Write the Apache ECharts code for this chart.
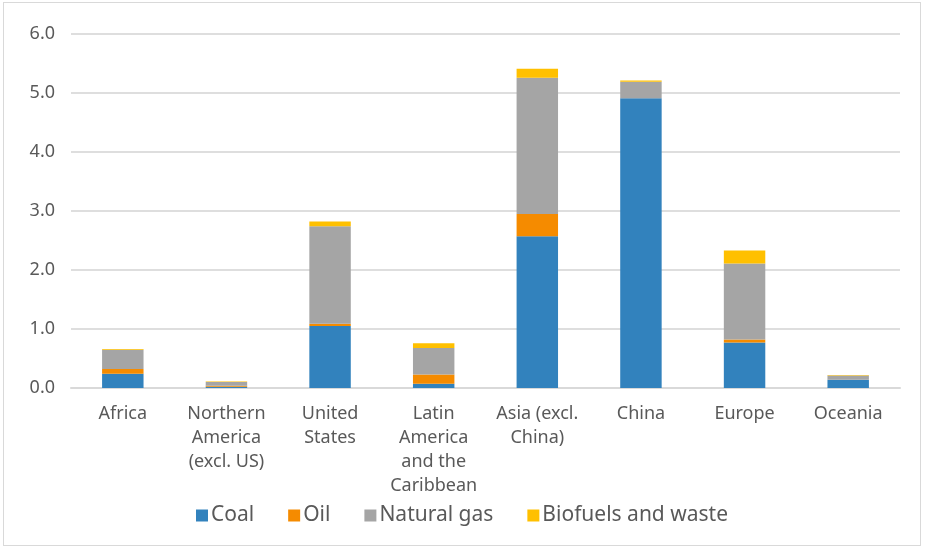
<!DOCTYPE html>
<html>
<head>
<meta charset="utf-8">
<script src="https://cdn.jsdelivr.net/npm/echarts@6/dist/echarts.min.js"></script>
<style>
  html, body { margin: 0; padding: 0; background: #fff; }
  #main { position: absolute; left: 3px; top: 2px; width: 918px; height: 544px; border: 1px solid #d9d9d9; box-sizing: border-box; }
</style>
</head>
<body>
<div id="main"></div>
<script>
// regions on the x axis
const regions = ['Africa', 'Northern\nAmerica\n(excl. US)', 'United\nStates', 'Latin\nAmerica\nand the\nCaribbean', 'Asia (excl.\nChina)', 'China', 'Europe', 'Oceania']

// stacked values
const coal = [0.24, 0.02, 1.05, 0.07, 2.57, 4.91, 0.77, 0.14]
const oil = [0.08, 0.02, 0.04, 0.16, 0.38, 0.00, 0.05, 0.00]
const naturalGas = [0.33, 0.06, 1.65, 0.45, 2.31, 0.28, 1.29, 0.07]
const biofuels = [0.01, 0.01, 0.08, 0.08, 0.15, 0.02, 0.22, 0.01]

const textColor = '#595959'
const font = 'Noto Sans'

const myChart = echarts.init(document.getElementById('main'))

function makeSeries (name, data, color) {
  return {
    name: name,
    type: 'bar',
    stack: 'total',
    barWidth: '40%',
    itemStyle: { color: color },
    data: data
  }
}

const option = {
  animation: false,
  textStyle: { fontFamily: font },
  grid: { left: 67, right: 20, top: 31, bottom: 157 },
  legend: {
    bottom: 14,
    left: 'center',
    itemWidth: 12,
    itemHeight: 12,
    itemGap: 34,
    icon: 'rect',
    textStyle: { fontSize: 21, color: textColor, fontFamily: font, padding: [0, 0, 0, -2] }
  },
  xAxis: {
    type: 'category',
    data: regions,
    axisLine: { lineStyle: { color: '#d9d9d9', width: 2 } },
    axisTick: { show: false },
    axisLabel: { color: textColor, fontSize: 18, lineHeight: 24, margin: 14, interval: 0 }
  },
  yAxis: {
    type: 'value',
    min: 0,
    max: 6,
    interval: 1,
    axisLine: { show: false },
    axisTick: { show: false },
    splitLine: { lineStyle: { color: '#dedede', width: 2 } },
    axisLabel: {
      color: textColor,
      fontSize: 18,
      margin: 16,
      formatter: function (v) { return v.toFixed(1) }
    }
  },
  series: [
    makeSeries('Coal', coal, '#3282bd'),
    makeSeries('Oil', oil, '#f58b00'),
    makeSeries('Natural gas', naturalGas, '#a5a5a5'),
    makeSeries('Biofuels and waste', biofuels, '#ffc000')
  ]
}

myChart.setOption(option)
</script>
</body>
</html>
